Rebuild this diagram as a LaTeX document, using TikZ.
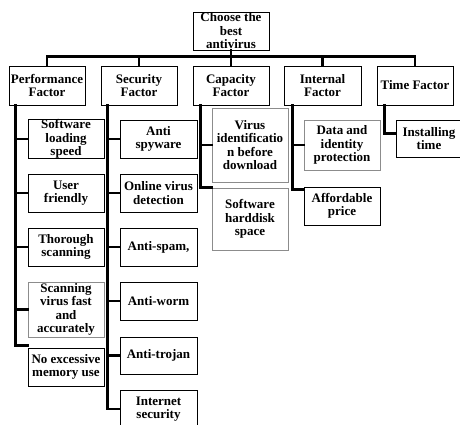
\documentclass[tikz,border=0pt]{standalone}
\usepackage{fontspec}
\setmainfont{Liberation Serif}
\usepackage{tikz}

\begin{document}
\begin{tikzpicture}[x=1pt,y=-1pt,
  box/.style={draw,line width=0.9pt,inner sep=0pt,align=center,
    minimum width=76pt,minimum height=38pt,
    font=\bfseries\fontsize{13}{13.5}\selectfont},
  grey box/.style={box,draw=black!45},
  link/.style={line width=2.6pt,line cap=rect}]

  \clip (0,0) rectangle (460,424);
  \useasboundingbox (0,0) rectangle (460,424);

  \node[box] (root) at (231,31) {Choose the\\best\\antivirus};

  \node[box,minimum height=39pt] (perf) at (47,85.5) {Performance\\Factor};
  \node[box,minimum height=39pt] (sec) at (139,85.5) {Security\\Factor};
  \node[box,minimum height=39pt] (cap) at (231,85.5) {Capacity\\Factor};
  \node[box,minimum height=39pt,minimum width=77pt] (int) at (322.5,85.5) {Internal\\Factor};
  \node[box,minimum height=39pt] (time) at (415,85.5) {Time Factor};

  \node[box] (p1) at (66,139) {Software\\loading\\speed};
  \node[box] (p2) at (66,193) {User\\friendly};
  \node[box] (p3) at (66,247) {Thorough\\scanning};
  \node[grey box,minimum height=55pt] (p4) at (66,309.5) {Scanning\\virus fast\\and\\accurately};
  \node[box] (p5) at (66,367) {No excessive\\memory use};

  \node[box,minimum width=77pt] (s1) at (158.5,139) {Anti\\spyware};
  \node[box,minimum width=77pt] (s2) at (158.5,193) {Online virus\\detection};
  \node[box,minimum width=77pt] (s3) at (158.5,247) {Anti-spam,};
  \node[box,minimum width=77pt] (s4) at (158.5,301) {Anti-worm};
  \node[box,minimum width=77pt,minimum height=37pt] (s5) at (158.5,355.5) {Anti-trojan};
  \node[box,minimum width=77pt] (s6) at (158.5,409) {Internet\\security};

  \node[grey box,minimum height=74pt] (c1) at (250,145) {Virus\\identificatio\\n before\\download};
  \node[grey box,minimum height=62pt] (c2) at (250,219) {Software\\harddisk\\space};

  \node[grey box,minimum height=50pt] (i1) at (342,145) {Data and\\identity\\protection};
  \node[box] (i2) at (342,206) {Affordable\\price};

  \node[box,minimum width=66pt,minimum height=37pt] (t1) at (429,138.5) {Installing\\time};

  % top level
  \draw[link] (root.south) -- ++(0,7);
  \draw[link] (perf.north) -- ++(0,-9) -| (time.north);
  \foreach \n in {sec,cap,int}
    \draw[link] (\n.north) -- ++(0,-9);

  % branches
  \foreach \c in {p1,p2,p3,p4}
    \draw[link] ([xshift=7pt]perf.south west) |- (\c.west);
  \draw[link] ([xshift=7pt]perf.south west) |- ([yshift=2pt]p5.north west);
  \foreach \c in {s1,s2,s3,s4,s5,s6}
    \draw[link] ([xshift=7pt]sec.south west) |- (\c.west);
  \draw[link] ([xshift=8pt]cap.south west) |- (c1.west);
  \draw[link] ([xshift=8pt]cap.south west) |- (c2.north west);
  \draw[link] ([xshift=9pt]int.south west) |- (i1.west);
  \draw[link] ([xshift=9pt]int.south west) |- ([yshift=-3pt]i2.north west);
  \draw[link] ([xshift=8pt]time.south west) |- ([yshift=5pt]t1.west);

\end{tikzpicture}
\end{document}
